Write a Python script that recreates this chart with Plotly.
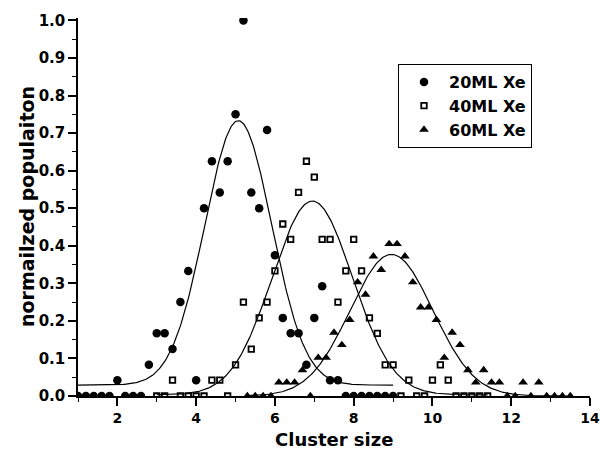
import numpy as np
import plotly.graph_objects as go

# ---- data ----
x_20 = [1.0, 1.2, 1.4, 1.6, 1.8, 2.0, 2.2, 2.4, 2.6, 2.8, 3.0, 3.2, 3.4, 3.6, 3.8, 4.0,
        4.2, 4.4, 4.6, 4.8, 5.0, 5.2, 5.4, 5.6, 5.8, 6.0, 6.2, 6.4, 6.6, 6.8, 7.0, 7.2,
        7.4, 7.6, 7.8, 8.0, 8.2, 8.4, 8.6, 8.8, 9.0]
y_20 = [0, 0, 0, 0, 0, 0.042, 0, 0, 0, 0.083, 0.167, 0.167, 0.125, 0.25, 0.333, 0.042,
        0.5, 0.625, 0.542, 0.625, 0.75, 1.0, 0.542, 0.5, 0.708, 0.375, 0.208, 0.167, 0.167,
        0.083, 0.208, 0.292, 0.042, 0.042, 0, 0, 0, 0, 0, 0, 0]

x_40 = [3.0, 3.2, 3.4, 3.6, 3.8, 4.0, 4.2, 4.4, 4.6, 4.8, 5.0, 5.2, 5.4, 5.6, 5.8, 6.0,
        6.2, 6.4, 6.6, 6.8, 7.0, 7.2, 7.4, 7.6, 7.8, 8.0, 8.2, 8.4, 8.6, 8.8, 9.0, 9.2,
        9.4, 9.6, 9.8, 10.0, 10.2, 10.4, 10.6, 10.8, 11.0, 11.2, 11.4]
y_40 = [0, 0, 0.042, 0, 0, 0, 0, 0.042, 0.042, 0, 0.083, 0.25, 0.125, 0.208, 0.25, 0.333,
        0.458, 0.417, 0.542, 0.625, 0.583, 0.417, 0.417, 0.25, 0.333, 0.417, 0.333, 0.208,
        0.167, 0.083, 0.083, 0, 0.042, 0, 0, 0.042, 0.083, 0.042, 0, 0, 0, 0, 0]

x_60 = [5.3, 5.5, 5.7, 5.9, 6.1, 6.3, 6.5, 6.7, 6.9, 7.1, 7.3, 7.5, 7.7, 7.9, 8.1, 8.3,
        8.5, 8.7, 8.9, 9.1, 9.3, 9.5, 9.7, 9.9, 10.1, 10.3, 10.5, 10.7, 10.9, 11.1, 11.3,
        11.5, 11.7, 11.9, 12.1, 12.3, 12.5, 12.7, 12.9, 13.1, 13.3, 13.5]
y_60 = [0, 0, 0, 0, 0.036, 0.036, 0.036, 0.069, 0, 0.102, 0.102, 0.169, 0.136, 0.203,
        0.303, 0.270, 0.372, 0.336, 0.405, 0.405, 0.372, 0.303, 0.236, 0.236, 0.203, 0.102,
        0.169, 0.136, 0.069, 0.036, 0.069, 0.036, 0.036, 0, 0, 0.036, 0, 0.036, 0, 0, 0, 0]

# Gaussian fit parameters: [y0, amplitude, centre, sigma, x_start, x_end]
fit_20 = [0.029, 0.704, 5.07, 0.85, 1.0, 9.0]
fit_40 = [0.003, 0.516, 6.95, 1.02, 3.0, 11.4]
fit_60 = [0.0, 0.377, 8.96, 1.05, 5.3, 13.5]

series_names = ["20ML Xe", "40ML Xe", "60ML Xe"]
x_title = "Cluster size"
y_title = "normailzed populaiton"
x_ticks = [2, 4, 6, 8, 10, 12, 14]
x_tick_labels = ["2", "4", "6", "8", "10", "12", "14"]
y_ticks = [0.0, 0.1, 0.2, 0.3, 0.4, 0.5, 0.6, 0.7, 0.8, 0.9, 1.0]
y_tick_labels = ["0.0", "0.1", "0.2", "0.3", "0.4", "0.5", "0.6", "0.7", "0.8", "0.9", "1.0"]


def gauss(p):
    xs = np.linspace(p[4], p[5], 300)
    return xs, p[0] + p[1] * np.exp(-((xs - p[2]) ** 2) / (2 * p[3] ** 2))


FONT = "DejaVu Sans"
W, H = 600, 456
ML, MR, MT, MB = 78, 10, 18, 60
plot_w = W - ML - MR
plot_h = H - MT - MB


def px_x(page_x):
    return (page_x - ML) / plot_w


def px_y(page_y):
    return (H - MB - page_y) / plot_h


fig = go.Figure()

for p in (fit_20, fit_40, fit_60):
    cx, cy = gauss(p)
    fig.add_trace(go.Scatter(x=cx, y=cy, mode="lines", showlegend=False,
                             line=dict(color="black", width=1.2), hoverinfo="skip"))

fig.add_trace(go.Scatter(x=x_20, y=y_20, mode="markers", name=series_names[0],
                         marker=dict(symbol="circle", size=8.5, color="black")))
fig.add_trace(go.Scatter(x=x_40, y=y_40, mode="markers", name=series_names[1],
                         marker=dict(symbol="square-open", size=5.5, color="black",
                                     line=dict(width=1.8, color="black"))))
fig.add_trace(go.Scatter(x=x_60, y=y_60, mode="markers", name=series_names[2],
                         marker=dict(symbol="triangle-up", size=8.5, color="black")))

fig.update_layout(
    width=W, height=H,
    margin=dict(l=ML, r=MR, t=MT, b=MB, autoexpand=False),
    paper_bgcolor="white", plot_bgcolor="white",
    font=dict(family=FONT, color="black", size=15, weight="bold"),
    legend=dict(x=px_x(398), y=px_y(64), xanchor="left", yanchor="top",
                bordercolor="black", borderwidth=1, bgcolor="white",
                itemwidth=40, font=dict(family=FONT, size=16, weight="bold")),
    xaxis=dict(range=[1, 14], showline=True, linecolor="black", linewidth=1.5,
               showgrid=False, zeroline=False, mirror=False, automargin=False,
               ticklabeloverflow="allow",
               tickmode="array", tickvals=x_ticks, ticktext=x_tick_labels,
               ticks="outside", ticklen=8, tickwidth=1.5, tickcolor="black",
               minor=dict(dtick=1, tick0=1, ticks="outside", ticklen=4, tickwidth=1.2,
                          tickcolor="black", showgrid=False),
               tickfont=dict(family=FONT, size=14, weight="bold")),
    yaxis=dict(range=[0, 1.0064], showline=True, linecolor="black", linewidth=1.5,
               showgrid=False, zeroline=False, mirror=False, automargin=False,
               ticklabeloverflow="allow",
               tickmode="array", tickvals=y_ticks, ticktext=y_tick_labels,
               ticks="outside", ticklen=8, tickwidth=1.5, tickcolor="black",
               minor=dict(dtick=0.05, tick0=0, ticks="outside", ticklen=4, tickwidth=1.2,
                          tickcolor="black", showgrid=False),
               tickfont=dict(family=FONT, size=15, weight="bold")),
    annotations=[
        dict(text=x_title, xref="paper", yref="paper", showarrow=False,
             x=0.5, y=px_y(439), xanchor="center", yanchor="middle",
             font=dict(family=FONT, size=18, weight="bold")),
        dict(text=y_title, xref="paper", yref="paper", showarrow=False, textangle=-90,
             x=px_x(27), y=0.5, xanchor="center", yanchor="middle",
             font=dict(family=FONT, size=19, weight="bold")),
    ],
)

# remove the browser's default 8px page margin so the 600x456 figure fills the window
fig.write_html("out.html",
               config={"displayModeBar": False},
               post_script="document.body.style.margin='0';document.body.style.overflow='hidden';")
